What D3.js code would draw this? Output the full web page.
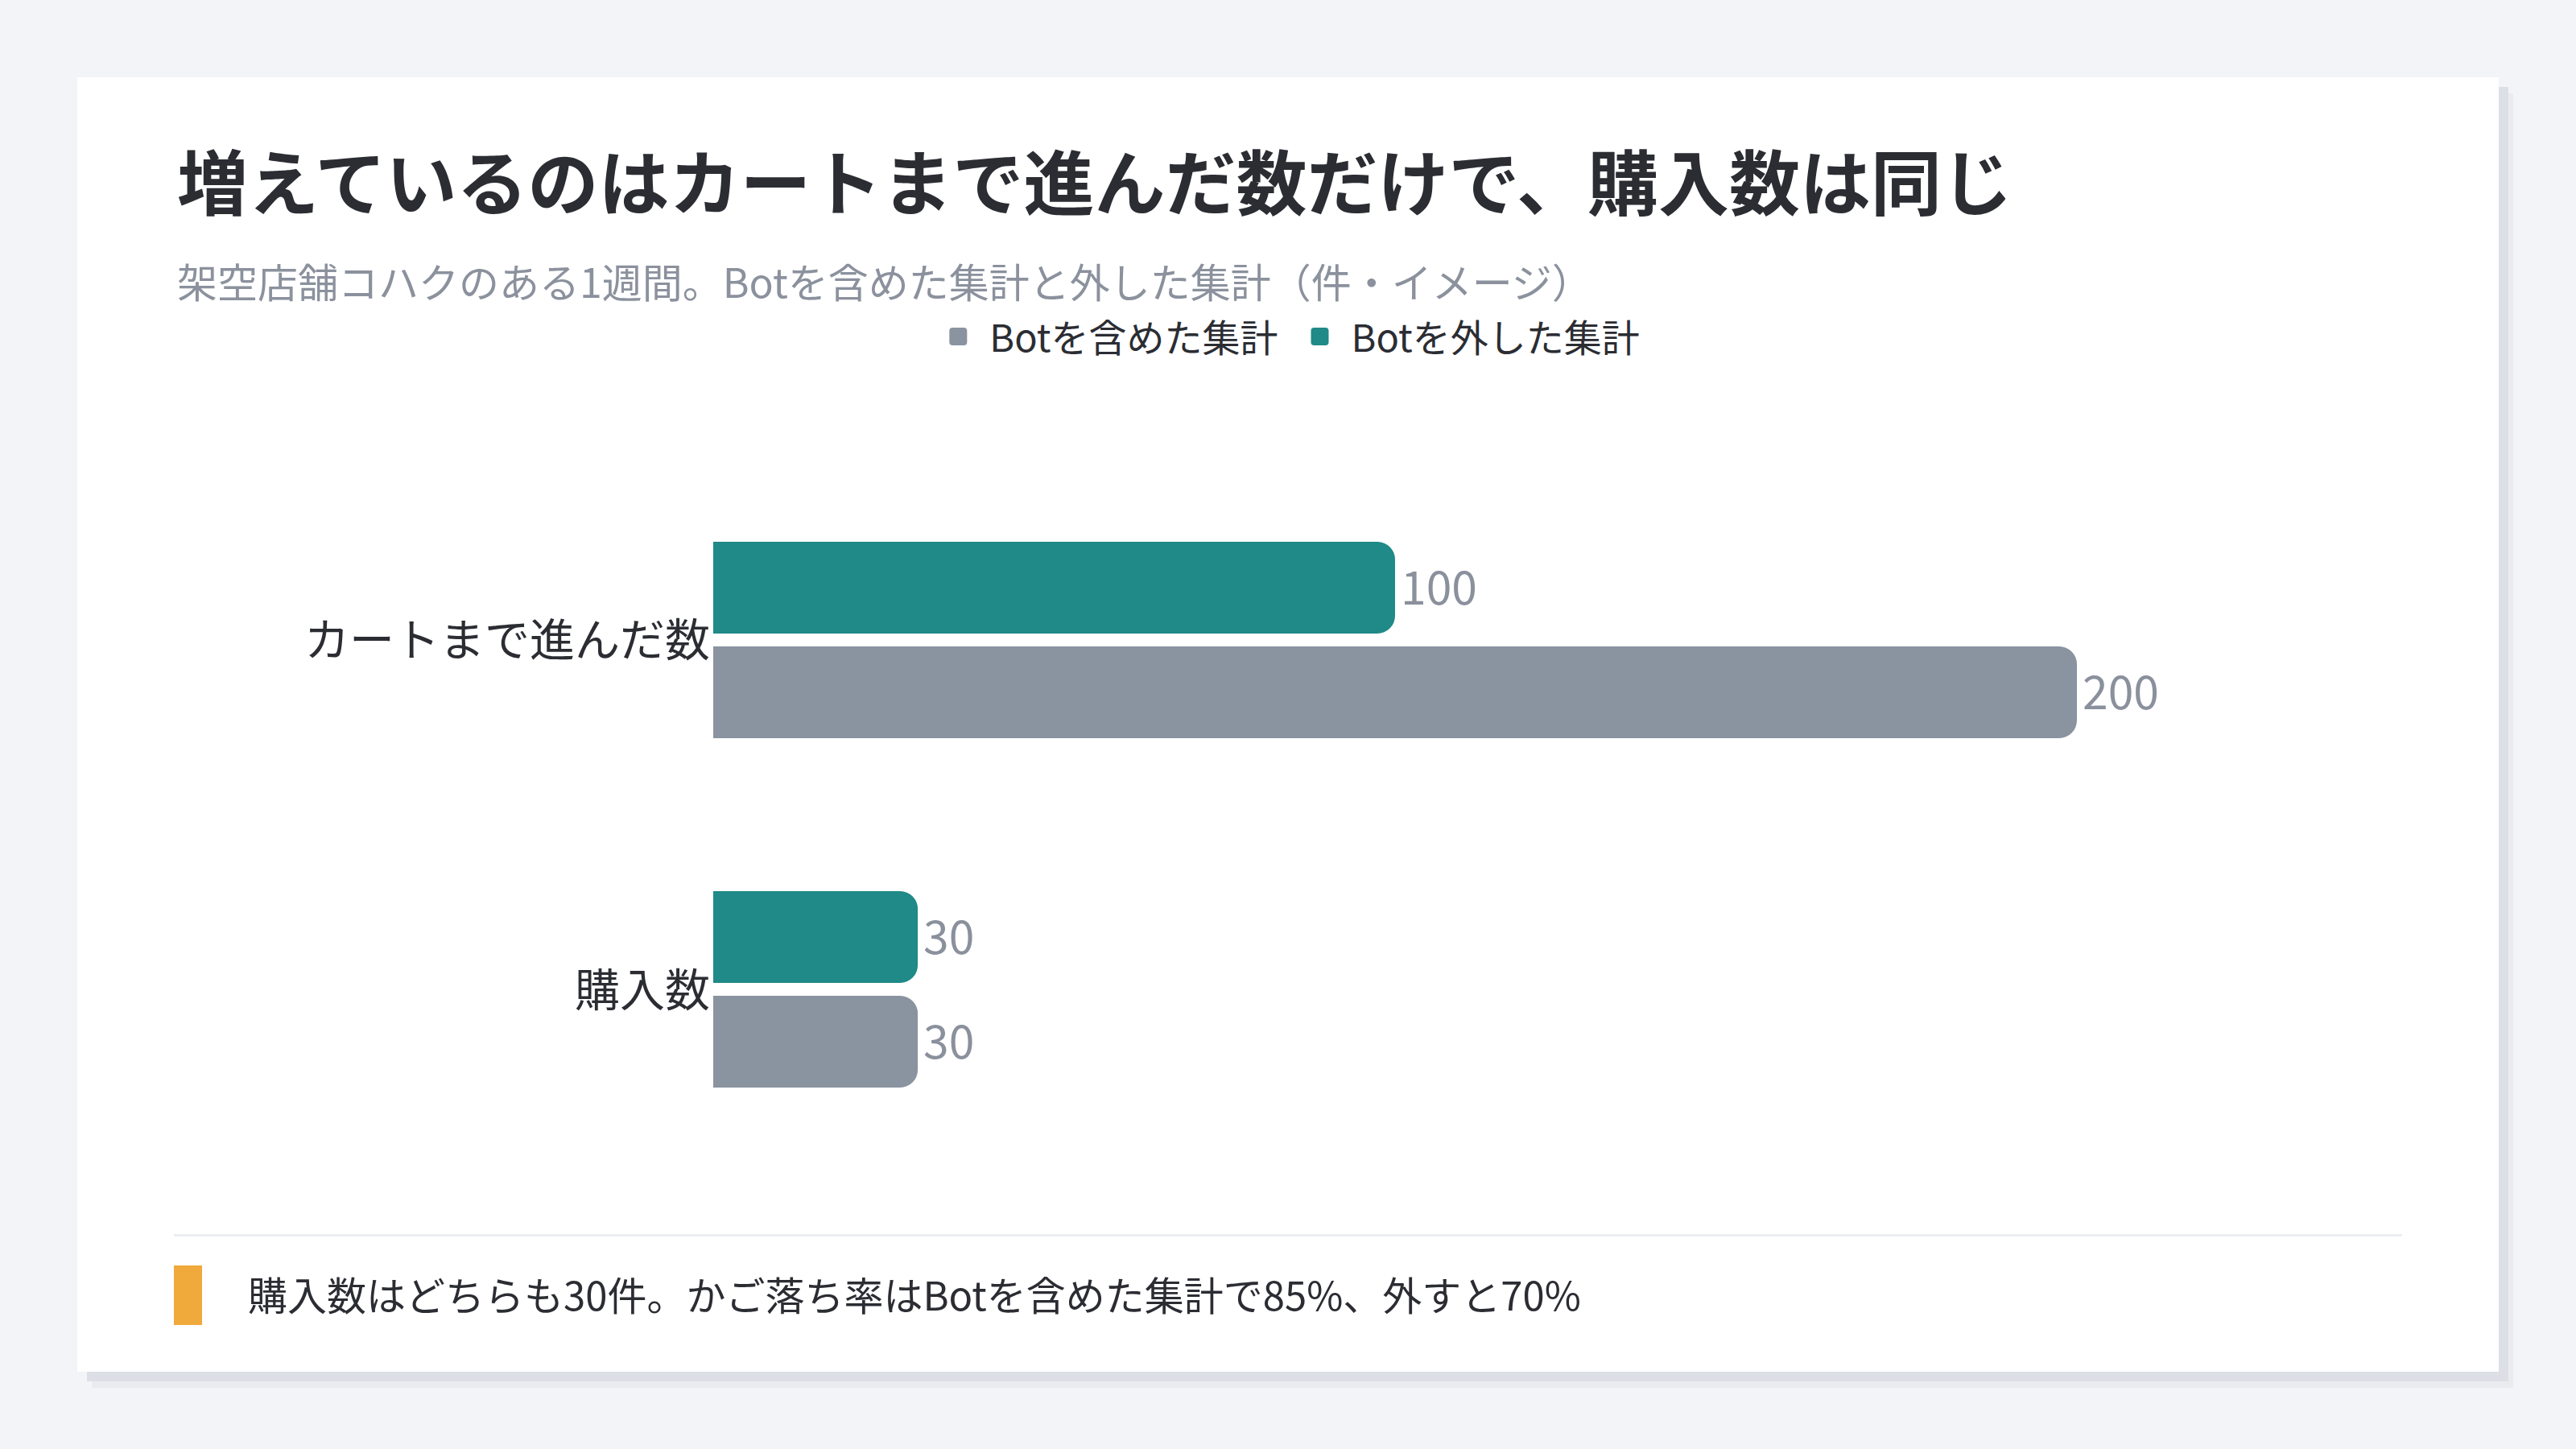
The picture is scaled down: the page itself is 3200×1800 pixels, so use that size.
<!DOCTYPE html>
<html><head><meta charset="utf-8">
<script src="https://cdn.jsdelivr.net/npm/d3@7"></script>
<style>
html,body{margin:0;padding:0;background:#f3f4f8;}
svg{display:block;font-family:"Noto Sans CJK JP","Noto Sans",sans-serif;}
</style></head>
<body>
<svg id="chart" width="3200" height="1800"></svg>
<script>
const titleText = "増えているのはカートまで進んだ数だけで、購入数は同じ";
const subtitleText = "架空店舗コハクのある1週間。Botを含めた集計と外した集計（件・イメージ）";
const footerText = "購入数はどちらも30件。かご落ち率はBotを含めた集計で85%、外すと70%";
const categories = ["カートまで進んだ数", "購入数"];
const seriesKeys = ["without", "with"];
const legendNames = ["Botを含めた集計", "Botを外した集計"];
const legendKeys = ["with", "without"];
const withBot = [200, 30];
const withoutBot = [100, 30];
const colors = {with: "#8a93a0", without: "#1f8a87"};

const svg = d3.select("#chart");
svg.append("rect").attr("width",3200).attr("height",1800).attr("fill","#f3f4f8");

// card with shadow
const card = {x:96, y:96, w:3008, h:1608};
svg.append("rect").attr("x",card.x+18).attr("y",card.y+20).attr("width",card.w).attr("height",card.h).attr("fill","#e9ebef");
svg.append("rect").attr("x",card.x+12).attr("y",card.y+12).attr("width",card.w).attr("height",card.h).attr("fill","#dcdfe5");
svg.append("rect").attr("x",card.x).attr("y",card.y).attr("width",card.w).attr("height",card.h).attr("fill","#ffffff");

svg.append("text").attr("x",220).attr("y",221).attr("dominant-baseline","central")
  .attr("font-size",88).attr("font-weight",700).attr("fill","#2b2d33").text(titleText);
svg.append("text").attr("x",220).attr("y",348).attr("dominant-baseline","central")
  .attr("font-size",50).attr("fill","#8b919d").text(subtitleText);

// legend
const lg = svg.append("g");
let lx = 0;
legendKeys.forEach((k,i)=>{
  const g = lg.append("g").attr("transform",`translate(${lx},0)`);
  g.append("rect").attr("x",0).attr("y",-11).attr("width",22).attr("height",22).attr("rx",4).attr("fill",colors[k]);
  const t = g.append("text").attr("x",50).attr("y",-2).attr("dominant-baseline","central")
    .attr("font-size",47).attr("fill","#2b2d33").text(legendNames[i]);
  lx += 50 + t.node().getComputedTextLength() + 41;
});
const lw = lx - 41;
lg.attr("transform",`translate(${1608 - lw/2},418)`);

// scales
const x = d3.scaleLinear().domain([0, 200]).range([886, 2580]);
const y0 = d3.scaleBand().domain(categories).range([480, 1544]).paddingInner(0.4378).paddingOuter(0.4447);
const y1 = d3.scaleBand().domain(seriesKeys).range([0, y0.bandwidth()]).paddingInner(0.123);

const data = categories.map((c,i)=>({cat:c, values:{with:withBot[i], without:withoutBot[i]}}));
const r = 22;
function barPath(x0, x1, yt, h){
  const rr = Math.min(r, (x1-x0), h/2);
  return `M${x0},${yt}H${x1-rr}A${rr},${rr} 0 0 1 ${x1},${yt+rr}V${yt+h-rr}A${rr},${rr} 0 0 1 ${x1-rr},${yt+h}H${x0}Z`;
}
const groups = svg.selectAll(".grp").data(data).join("g").attr("class","grp")
  .attr("transform",d=>`translate(0,${y0(d.cat)})`);
groups.selectAll("path").data(d=>seriesKeys.map(k=>({k, v:d.values[k]}))).join("path")
  .attr("d",d=>barPath(x(0), x(d.v), y1(d.k), y1.bandwidth()))
  .attr("fill",d=>colors[d.k]);
groups.selectAll("text.val").data(d=>seriesKeys.map(k=>({k, v:d.values[k]}))).join("text").attr("class","val")
  .attr("x",d=>x(d.v)+7).attr("y",d=>y1(d.k)+y1.bandwidth()/2-4).attr("dominant-baseline","central")
  .attr("font-size",57).attr("fill","#8a909c").text(d=>d.v);

// category axis labels
svg.selectAll("text.cat").data(categories).join("text").attr("class","cat")
  .attr("x",x(0)-4).attr("y",d=>y0(d)+y0.bandwidth()/2-4).attr("text-anchor","end").attr("dominant-baseline","central")
  .attr("font-size",56).attr("fill","#2b2d33").text(d=>d);

// divider and footer
svg.append("rect").attr("x",216).attr("y",1533).attr("width",2768).attr("height",3).attr("fill","#eceef2");
svg.append("rect").attr("x",216).attr("y",1572).attr("width",35).attr("height",74).attr("fill","#f0a93b");
svg.append("text").attr("x",308).attr("y",1606).attr("dominant-baseline","central")
  .attr("font-size",49).attr("fill","#2b2d33").text(footerText);
</script>
</body></html>
